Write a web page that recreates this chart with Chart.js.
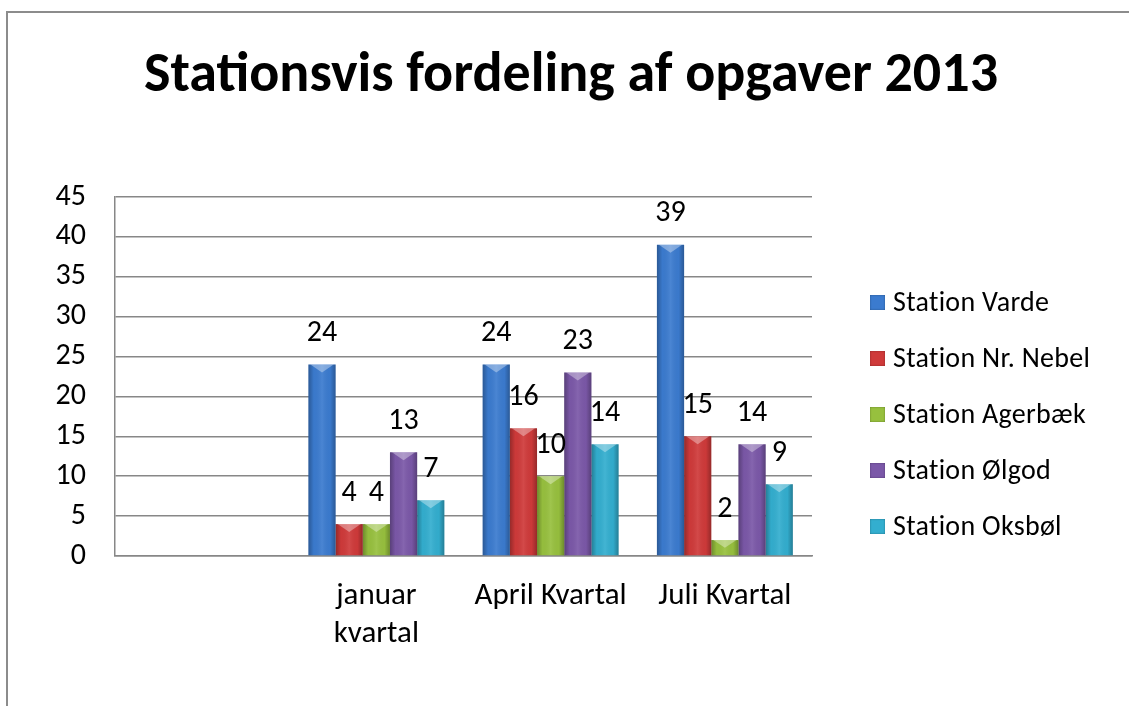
<!DOCTYPE html>
<html>
<head>
<meta charset="utf-8">
<script src="https://cdn.jsdelivr.net/npm/chart.js@4.4.0/dist/chart.umd.min.js"></script>
<style>
    body { margin: 0; background: #fff; font-family: Carlito, Calibri, Lato, sans-serif; }
    #wrap { position: relative; width: 1129px; height: 706px; overflow: hidden; }
    #frame { position: absolute; left: 6px; top: 11px; right: -10px; bottom: -10px; border-left: 2px solid #8c8c8c; border-top: 2px solid #8c8c8c; pointer-events: none; }
    #chart-title { position: absolute; left: 0; width: 1142px; top: 37px; text-align: center; font-size: 56px; font-weight: bold; color: #000; line-height: 70px; }
    #legend { position: absolute; left: 870px; top: 285px; margin: 0; padding: 0; list-style: none; }
    #legend li { height: 56px; display: flex; align-items: flex-start; font-size: 28px; color: #000; line-height: 33px; letter-spacing: 0.3px; }
    #legend .box { width: 15px; height: 15px; margin-top: 10px; margin-right: 8px; box-shadow: inset 0 0 2px rgba(0,0,0,0.4); }
</style>
</head>
<body>
<div id="wrap">
    <canvas id="stations-chart" width="1129" height="706"></canvas>
    <div id="frame"></div>
    <div id="chart-title">Stationsvis fordeling af opgaver 2013</div>
    <ul id="legend"></ul>
</div>
<script>
const categories = ['', ['januar', 'kvartal'], 'April Kvartal', 'Juli Kvartal'];
const stations = ['Station Varde', 'Station Nr. Nebel', 'Station Agerbæk', 'Station Ølgod', 'Station Oksbøl'];
const varde = [null, 24, 24, 39];
const nrNebel = [null, 4, 16, 15];
const agerbaek = [null, 4, 10, 2];
const olgod = [null, 13, 23, 14];
const oksbol = [null, 7, 14, 9];
const colors = ['#3b7bcf', '#cf3a3a', '#97c03e', '#7b58a8', '#33aecf'];

const fontFamily = 'Carlito, Calibri, Lato, sans-serif';

// excel-ish bevel: darker edges, lighter middle, little chevron on top
const bevelPlugin = {
    id: 'bevel',
    afterDatasetsDraw(chart) {
        const ctx = chart.ctx;
        chart.data.datasets.forEach(function (ds, i) {
            chart.getDatasetMeta(i).data.forEach(function (bar, j) {
                if (ds.data[j] == null) return;
                const p = bar.getProps(['x', 'y', 'base', 'width'], true);
                const left = p.x - p.width / 2;
                const g = ctx.createLinearGradient(left, 0, left + p.width, 0);
                g.addColorStop(0, 'rgba(0,0,0,0.28)');
                g.addColorStop(0.2, 'rgba(0,0,0,0.02)');
                g.addColorStop(0.5, 'rgba(255,255,255,0.08)');
                g.addColorStop(0.8, 'rgba(0,0,0,0.02)');
                g.addColorStop(1, 'rgba(0,0,0,0.28)');
                ctx.save();
                ctx.fillStyle = g;
                ctx.fillRect(left, p.y, p.width, p.base - p.y);
                const h = Math.min(8, (p.base - p.y) / 2);
                ctx.fillStyle = 'rgba(255,255,255,0.35)';
                ctx.beginPath();
                ctx.moveTo(left + 2, p.y);
                ctx.lineTo(left + p.width - 2, p.y);
                ctx.lineTo(p.x, p.y + h);
                ctx.closePath();
                ctx.fill();
                ctx.restore();
            });
        });
    }
};

const valueLabels = {
    id: 'valueLabels',
    afterDatasetsDraw(chart) {
        const ctx = chart.ctx;
        ctx.save();
        ctx.font = '30px ' + fontFamily;
        ctx.fillStyle = '#000';
        ctx.textAlign = 'center';
        ctx.textBaseline = 'middle';
        chart.data.datasets.forEach(function (ds, i) {
            chart.getDatasetMeta(i).data.forEach(function (bar, j) {
                if (ds.data[j] == null) return;
                ctx.fillText(ds.data[j], bar.x, bar.y - 31);
            });
        });
        ctx.restore();
    }
};

const series = [varde, nrNebel, agerbaek, olgod, oksbol];

new Chart(document.getElementById('stations-chart'), {
    type: 'bar',
    data: {
        labels: categories,
        datasets: series.map(function (values, i) {
            return {
                label: stations[i],
                data: values,
                backgroundColor: colors[i],
                borderWidth: 0
            };
        })
    },
    options: {
        responsive: false,
        animation: false,
        categoryPercentage: 0.78,
        barPercentage: 1,
        layout: { padding: { top: 197, right: 317, bottom: 0, left: 0 } },
        plugins: {
            legend: { display: false },
            title: { display: false },
            tooltip: { enabled: false }
        },
        scales: {
            x: {
                grid: { display: false, drawTicks: false },
                border: { color: '#878787', width: 1.5 },
                ticks: {
                    color: '#000',
                    padding: 22,
                    maxRotation: 0,
                    font: { family: fontFamily, size: 31, lineHeight: 1.2 }
                },
                afterFit: function (scale) { scale.height = 150; }
            },
            y: {
                min: 0,
                max: 45,
                ticks: {
                    stepSize: 5,
                    color: '#000',
                    padding: 29,
                    font: { family: fontFamily, size: 30 }
                },
                grid: { color: '#878787', lineWidth: 1.5, drawTicks: false },
                border: { color: '#878787', width: 1.5 },
                afterFit: function (scale) { scale.width = 115; }
            }
        }
    },
    plugins: [bevelPlugin, valueLabels]
});

const legend = document.getElementById('legend');
stations.forEach(function (name, i) {
    const li = document.createElement('li');
    li.innerHTML = '<span class="box" style="background:' + colors[i] + '"></span>' + name;
    legend.appendChild(li);
});
</script>
</body>
</html>
